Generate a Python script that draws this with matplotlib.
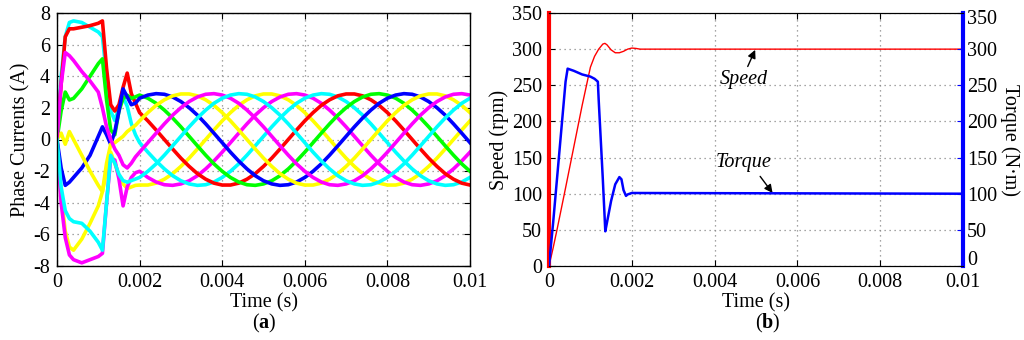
import numpy as np
import matplotlib
matplotlib.use("Agg")
import matplotlib.pyplot as plt
import matplotlib.transforms as mtransforms

plt.rcParams['font.family'] = ['Liberation Serif', 'DejaVu Serif']
plt.rcParams['axes.unicode_minus'] = False
plt.rcParams['mathtext.fontset'] = 'custom'
plt.rcParams['mathtext.rm'] = 'Liberation Serif'
plt.rcParams['mathtext.bf'] = 'Liberation Serif:bold'
FS = 14.5

# ---------------- data: panel (a) phase currents ----------------
t_transient = [0.0, 0.0001, 0.0002, 0.0003, 0.0004, 0.0006, 0.0008, 0.0010, 0.0011,
               0.0012, 0.0013, 0.0014, 0.0015, 0.0016, 0.0017, 0.0018, 0.0019]
t_steady = [round(0.002 + 0.0002 * k, 6) for k in range(41)]
t_phase = t_transient + t_steady

i_y1 = [0, -3.5, -5.8, -6.8, -7.0, -6.3, -5.3, -4.2, -3.3, -2.0, -0.8, -1.5, -2.3, -2.8, -3.1, -3.0, -2.9,
        -2.88, -2.88, -2.76, -2.51, -2.16, -1.70, -1.18, -0.60, 0.00, 0.60, 1.18, 1.70, 2.16, 2.51, 2.76, 2.88,
        2.88, 2.76, 2.51, 2.16, 1.70, 1.18, 0.60, 0.00, -0.60, -1.18, -1.70, -2.16, -2.51, -2.76, -2.88,
        -2.88, -2.76, -2.51, -2.16, -1.70, -1.18, -0.60, 0.00, 0.60, 1.18]
i_m2 = [0, -4.0, -6.2, -7.3, -7.6, -7.8, -7.6, -7.4, -7.2, -4.0, -1.2, -1.3, -2.5, -4.2, -3.0, -2.4, -2.1,
        -2.01, -2.40, -2.69, -2.86, -2.90, -2.81, -2.61, -2.29, -1.86, -1.36, -0.80, -0.20, 0.40, 0.99, 1.54,
        2.01, 2.40, 2.69, 2.86, 2.90, 2.81, 2.61, 2.29, 1.86, 1.36, 0.80, 0.20, -0.40, -0.99, -1.54,
        -2.01, -2.40, -2.69, -2.86, -2.90, -2.81, -2.61, -2.29, -1.86, -1.36, -0.80]
i_c3 = [0, 4.0, 6.5, 7.4, 7.5, 7.4, 7.1, 6.8, 6.5, 4.0, 1.8, 1.2, 2.0, 2.7, 2.1, 1.0, 0.3,
        -0.20, -0.80, -1.36, -1.86, -2.29, -2.61, -2.81, -2.90, -2.86, -2.69, -2.40, -2.01, -1.54, -0.99, -0.40,
        0.20, 0.80, 1.36, 1.86, 2.29, 2.61, 2.81, 2.90, 2.86, 2.69, 2.40, 2.01, 1.54, 0.99, 0.40,
        -0.20, -0.80, -1.36, -1.86, -2.29, -2.61, -2.81, -2.90, -2.86, -2.69, -2.40]
i_r4 = [0, 3.5, 6.5, 7.0, 7.0, 7.1, 7.2, 7.35, 7.5, 4.5, 2.2, 1.8, 2.2, 3.3, 4.2, 2.9, 2.3,
        1.70, 1.18, 0.60, 0.00, -0.60, -1.18, -1.70, -2.16, -2.51, -2.76, -2.88, -2.88, -2.76, -2.51, -2.16,
        -1.70, -1.18, -0.60, 0.00, 0.60, 1.18, 1.70, 2.16, 2.51, 2.76, 2.88, 2.88, 2.76, 2.51, 2.16,
        1.70, 1.18, 0.60, 0.00, -0.60, -1.18, -1.70, -2.16, -2.51, -2.76, -2.88]
i_g5 = [0, 1.8, 3.0, 2.5, 2.6, 3.2, 4.0, 4.8, 5.1, 2.5, 0.6, 0.3, 1.8, 2.6, 2.8, 2.6, 2.7,
        2.81, 2.61, 2.29, 1.86, 1.36, 0.80, 0.20, -0.40, -0.99, -1.54, -2.01, -2.40, -2.69, -2.86, -2.90,
        -2.81, -2.61, -2.29, -1.86, -1.36, -0.80, -0.20, 0.40, 0.99, 1.54, 2.01, 2.40, 2.69, 2.86, 2.90,
        2.81, 2.61, 2.29, 1.86, 1.36, 0.80, 0.20, -0.40, -0.99, -1.54, -2.01]
i_b6 = [0, -1.8, -2.9, -2.7, -2.4, -1.8, -1.0, 0.2, 0.8, 0.3, -0.3, 0.5, 1.8, 3.2, 2.7, 2.2, 2.3,
        2.61, 2.81, 2.90, 2.86, 2.69, 2.40, 2.01, 1.54, 0.99, 0.40, -0.20, -0.80, -1.36, -1.86, -2.29,
        -2.61, -2.81, -2.90, -2.86, -2.69, -2.40, -2.01, -1.54, -0.99, -0.40, 0.20, 0.80, 1.36, 1.86, 2.29,
        2.61, 2.81, 2.90, 2.86, 2.69, 2.40, 2.01, 1.54, 0.99, 0.40, -0.20]
i_y7 = [0, 0.4, -0.3, 0.5, 0.0, -1.0, -2.0, -2.9, -3.3, -1.5, -0.3, -0.2, 0.0, 0.2, 0.5, 0.7, 0.9,
        1.18, 1.70, 2.16, 2.51, 2.76, 2.88, 2.88, 2.76, 2.51, 2.16, 1.70, 1.18, 0.60, 0.00, -0.60,
        -1.18, -1.70, -2.16, -2.51, -2.76, -2.88, -2.88, -2.76, -2.51, -2.16, -1.70, -1.18, -0.60, 0.00, 0.60,
        1.18, 1.70, 2.16, 2.51, 2.76, 2.88, 2.88, 2.76, 2.51, 2.16, 1.70]
i_m8 = [0, 3.5, 5.5, 5.3, 5.0, 4.3, 3.7, 3.0, 2.0, 0.8, 0.0, -0.6, -1.0, -1.6, -1.8, -1.5, -1.1,
        -0.80, -0.20, 0.40, 0.99, 1.54, 2.01, 2.40, 2.69, 2.86, 2.90, 2.81, 2.61, 2.29, 1.86, 1.36,
        0.80, 0.20, -0.40, -0.99, -1.54, -2.01, -2.40, -2.69, -2.86, -2.90, -2.81, -2.61, -2.29, -1.86, -1.36,
        -0.80, -0.20, 0.40, 0.99, 1.54, 2.01, 2.40, 2.69, 2.86, 2.90, 2.81]
i_c9 = [0, -3.0, -4.5, -5.0, -5.2, -5.3, -5.8, -6.5, -7.0, -4.0, -1.0, -1.5, -2.2, -2.6, -2.7, -2.6, -2.5,
        -2.40, -2.01, -1.54, -0.99, -0.40, 0.20, 0.80, 1.36, 1.86, 2.29, 2.61, 2.81, 2.90, 2.86, 2.69,
        2.40, 2.01, 1.54, 0.99, 0.40, -0.20, -0.80, -1.36, -1.86, -2.29, -2.61, -2.81, -2.90, -2.86, -2.69,
        -2.40, -2.01, -1.54, -0.99, -0.40, 0.20, 0.80, 1.36, 1.86, 2.29, 2.61]

phase_series = [i_y1, i_m2, i_c3, i_r4, i_g5, i_b6, i_y7, i_m8, i_c9]
phase_colors = ['#ffff00', '#ff00ff', '#00ffff', '#ff0000', '#00ff00', '#0000ff',
                '#ffff00', '#ff00ff', '#00ffff']

x_ticks = [0, 0.002, 0.004, 0.006, 0.008, 0.01]
x_ticklabels = ['0', '0.002', '0.004', '0.006', '0.008', '0.01']
a_yticks = [-8, -6, -4, -2, 0, 2, 4, 6, 8]

# ---------------- data: panel (b) speed & torque ----------------
speed_t = [0, 0.0001, 0.0002, 0.0004, 0.0006, 0.0008, 0.0010, 0.0011, 0.0012, 0.0013, 0.00135,
           0.0014, 0.0015, 0.0016, 0.0017, 0.0018, 0.0019, 0.0020, 0.0021, 0.0022, 0.01]
speed = [0, 25, 52, 108, 165, 222, 275, 290, 300, 307, 308,
         306, 299, 295, 295, 297, 300, 301.5, 301, 300, 300]

torque_t = [0, 0.0001, 0.0002, 0.0003, 0.0004, 0.00045, 0.0006, 0.0008, 0.0010, 0.0011, 0.00118,
            0.0012, 0.0013, 0.00136, 0.0014, 0.0015, 0.0016, 0.0017, 0.00175, 0.0018, 0.00186,
            0.0019, 0.0020, 0.01]
torque = [0, 60, 125, 190, 255, 273, 270, 265, 262, 259, 255,
          230, 120, 48, 60, 90, 113, 123, 120, 105, 97,
          99, 101, 100]

b_yticks = [0, 50, 100, 150, 200, 250, 300, 350]

# ---------------- figure ----------------
fig = plt.figure(figsize=(10.24, 3.4), dpi=100)

grid_kw = dict(color='#888888', linestyle=(0, (1, 3)), linewidth=0.9)

# panel (a)
axa = fig.add_axes([57 / 1024, 1 - 266 / 340, 413 / 1024, 253 / 340])
for vals, col in zip(phase_series, phase_colors):
    axa.plot(t_phase, vals, color=col, lw=2.6, solid_joinstyle='round')
axa.set_xlim(0, 0.01)
axa.set_ylim(-8, 8)
axa.set_xticks(x_ticks)
axa.set_xticklabels(x_ticklabels)
axa.set_yticks(a_yticks)
axa.grid(True, **grid_kw)
axa.tick_params(direction='in', top=True, right=True, labelsize=FS, length=4, pad=5)
axa.set_xlabel('Time (s)', fontsize=FS, labelpad=1)
axa.set_ylabel('Phase Currents (A)', fontsize=FS, labelpad=2)
for s in axa.spines.values():
    s.set_linewidth(1.0)
fig.text(264 / 1024, 1 - 323 / 340, r'($\mathbf{a}$)', fontsize=FS, ha='center', va='center')

# panel (b)
axb = fig.add_axes([549 / 1024, 1 - 266 / 340, 414 / 1024, 253 / 340])
axb2 = axb.twinx()
axb.plot(speed_t, speed, color='#ff0000', lw=1.0)
axb2.plot(torque_t, torque, color='#0000ff', lw=1.8)
for ax in (axb, axb2):
    ax.set_xlim(0, 0.01)
    ax.set_ylim(0, 350)
    ax.set_yticks(b_yticks)
axb.set_xticks(x_ticks)
axb.set_xticklabels(x_ticklabels)
axb.grid(True, **grid_kw)
axb.tick_params(direction='in', top=True, labelsize=FS, length=4, pad=5)
axb2.tick_params(direction='in', labelsize=FS, length=4, pad=3, color='#0000ff')
axb.set_xlabel('Time (s)', fontsize=FS, labelpad=1)
axb.set_ylabel('Speed (rpm)', fontsize=FS, labelpad=2)
axb2.set_ylabel('Torque (N·m)', fontsize=FS, rotation=270, va='bottom', labelpad=2)
axb.spines['left'].set_color('#ff0000')
axb.spines['left'].set_linewidth(3)
axb2.spines['left'].set_visible(False)
axb.spines['right'].set_visible(False)
axb2.spines['right'].set_color('#0000ff')
axb2.spines['right'].set_linewidth(3)

# end labels of the right axis sit slightly inside the axis range
rlabels = axb2.get_yticklabels()
rlabels[0].set_transform(rlabels[0].get_transform() +
                         mtransforms.ScaledTranslation(0, 6 / 72, fig.dpi_scale_trans))
rlabels[-1].set_transform(rlabels[-1].get_transform() +
                          mtransforms.ScaledTranslation(0, -3 / 72, fig.dpi_scale_trans))

arrow_kw = dict(arrowstyle='-|>', color='black', lw=1.0, shrinkA=0, shrinkB=0, mutation_scale=12)
axb.text(0.0047, 258, 'Speed', fontsize=FS, style='italic', ha='center', va='center')
axb.annotate('', xy=(0.00498, 299), xytext=(0.0048, 276), arrowprops=arrow_kw)
axb.text(0.0047, 143, 'Torque', fontsize=FS, style='italic', ha='center', va='center')
axb.annotate('', xy=(0.0054, 101), xytext=(0.0051, 124), arrowprops=arrow_kw)

fig.text(768 / 1024, 1 - 323 / 340, r'($\mathbf{b}$)', fontsize=FS, ha='center', va='center')

fig.savefig('out.png', dpi=100)
